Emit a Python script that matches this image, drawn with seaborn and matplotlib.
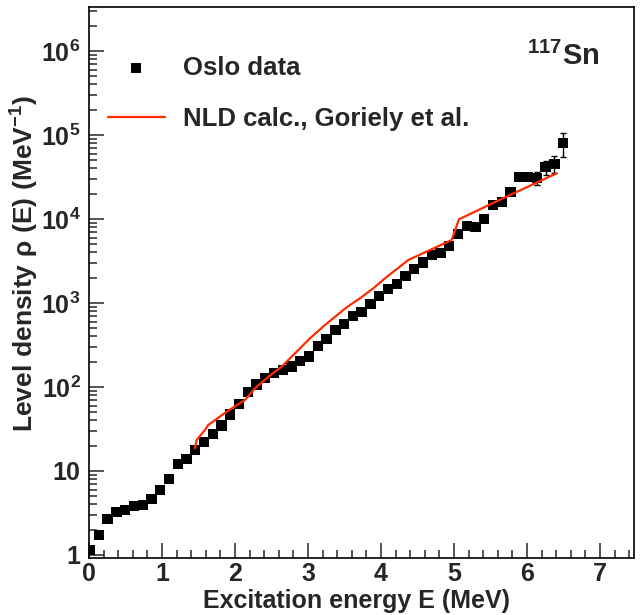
import numpy as np
import pandas as pd
import matplotlib
matplotlib.use("Agg")
import matplotlib.pyplot as plt
import matplotlib.ticker as mticker
import seaborn as sns

# Oslo data: excitation energy bins (MeV), level density (1/MeV)
energy = [0.015 + 0.12 * i for i in range(55)]
density = [1.15, 1.73, 2.68, 3.25, 3.43, 3.86, 3.94, 4.60, 5.94, 8.03,
           12.0, 13.8, 17.8, 22.0, 27.8, 34.8, 47.1, 63.3, 86.7, 107,
           129, 148, 158, 176, 202, 230, 305, 376, 481, 562,
           695, 788, 982, 1202, 1468, 1698, 2115, 2560, 3035, 3728,
           3908, 4773, 6626, 8258, 8035, 9910, 14560, 16070, 20960, 31620,
           31350, 30770, 41230, 45530, 80350]
density_err = [0] * 50 + [2000, 5300, 7600, 10500, 25000]

# NLD calculation, Goriely et al.
calc_energy = [1.452, 1.475, 1.589, 1.634, 1.886, 2.137, 2.274, 2.434, 2.640,
               2.845, 3.027, 3.233, 3.530, 3.712, 3.895, 4.055, 4.374, 4.671,
               4.968, 5.068, 5.60, 6.407]
calc_density = [18.6, 23.4, 30.8, 35.3, 50.8, 70, 96.5, 127, 175,
                263, 380, 547, 889, 1138, 1497, 1968, 3250, 4275,
                5623, 9910, 16500, 35000]

y_major = [1, 10, 1e2, 1e3, 1e4, 1e5, 1e6]

sns.set_style("ticks")
plt.rcParams['font.family'] = ['Liberation Sans', 'DejaVu Sans']
plt.rcParams['font.weight'] = 'bold'
plt.rcParams['mathtext.fontset'] = 'custom'
plt.rcParams['mathtext.rm'] = 'Liberation Sans'
plt.rcParams['mathtext.it'] = 'Liberation Sans:italic'
plt.rcParams['mathtext.bf'] = 'Liberation Sans:bold'

fig = plt.figure(figsize=(6.44, 6.15), dpi=100)
ax = fig.add_axes([89 / 644, 57 / 615, 545 / 644, 551 / 615])

data_df = pd.DataFrame({"E": energy, "rho": density})
calc_df = pd.DataFrame({"E": calc_energy, "rho": calc_density})

ax.errorbar(energy, density, yerr=density_err, fmt='none', ecolor='black',
            elinewidth=1.0, capsize=2.5, capthick=1.0, zorder=2)
sns.scatterplot(data=data_df, x="E", y="rho", marker='s', s=55, color='black',
                edgecolor='none', ax=ax, zorder=3, label="Oslo data")
sns.lineplot(data=calc_df, x="E", y="rho", color='#ff2a00', lw=1.6, sort=False,
             ax=ax, zorder=4, label="NLD calc., Goriely et al.")

ax.set_yscale('log')
ax.set_xlim(0, 7.466)
ax.set_ylim(0.921, 3.34e6)

ax.xaxis.set_major_locator(mticker.MultipleLocator(1))
ax.xaxis.set_minor_locator(mticker.MultipleLocator(0.2))
ax.yaxis.set_major_locator(mticker.FixedLocator(y_major))
ax.yaxis.set_minor_locator(mticker.LogLocator(base=10, subs=np.arange(2, 10), numticks=20))
ax.yaxis.set_minor_formatter(mticker.NullFormatter())


def ylab(v, pos):
    p = int(round(np.log10(v)))
    if p == 0:
        return '1'
    if p == 1:
        return '10'
    return r'$\mathbf{10^{%d}}$' % p


ax.yaxis.set_major_formatter(mticker.FuncFormatter(ylab))
ax.tick_params(axis='both', which='major', direction='in', length=11, width=1.1,
               labelsize=18)
ax.tick_params(axis='y', which='major', pad=6)
ax.tick_params(axis='x', which='major', pad=3)
ax.tick_params(axis='both', which='minor', direction='in', length=5.5, width=1.1)
ax.tick_params(top=False, right=False, which='both')
for lab in ax.get_xticklabels() + ax.get_yticklabels():
    lab.set_fontweight('bold')
for sp in ax.spines.values():
    sp.set_linewidth(1.2)
    sp.set_color('black')

ax.set_xlabel("Excitation energy E (MeV)", fontsize=18, fontweight='bold')
ax.xaxis.set_label_coords(0.49, -0.056)
ax.set_ylabel(r'$\mathbf{Level\ density}\ \mathrm{\rho}\ \mathbf{(E)\ (MeV^{-1})}$', fontsize=19)
ax.yaxis.set_label_coords(-0.088, 0.534)

fig.text(600 / 644, 1 - 65 / 615, r'$^{\mathregular{117}}\mathbf{Sn}$', fontsize=21,
         ha='right', va='baseline')

ax.legend(loc='upper left', bbox_to_anchor=(108 / 644, 1 - 56 / 615),
          bbox_transform=fig.transFigure, frameon=False, fontsize=18.5,
          borderpad=0, borderaxespad=0, handlelength=2.2, handletextpad=0.7,
          labelspacing=1.05, markerscale=1.0)

fig.savefig("out.png", dpi=100)
